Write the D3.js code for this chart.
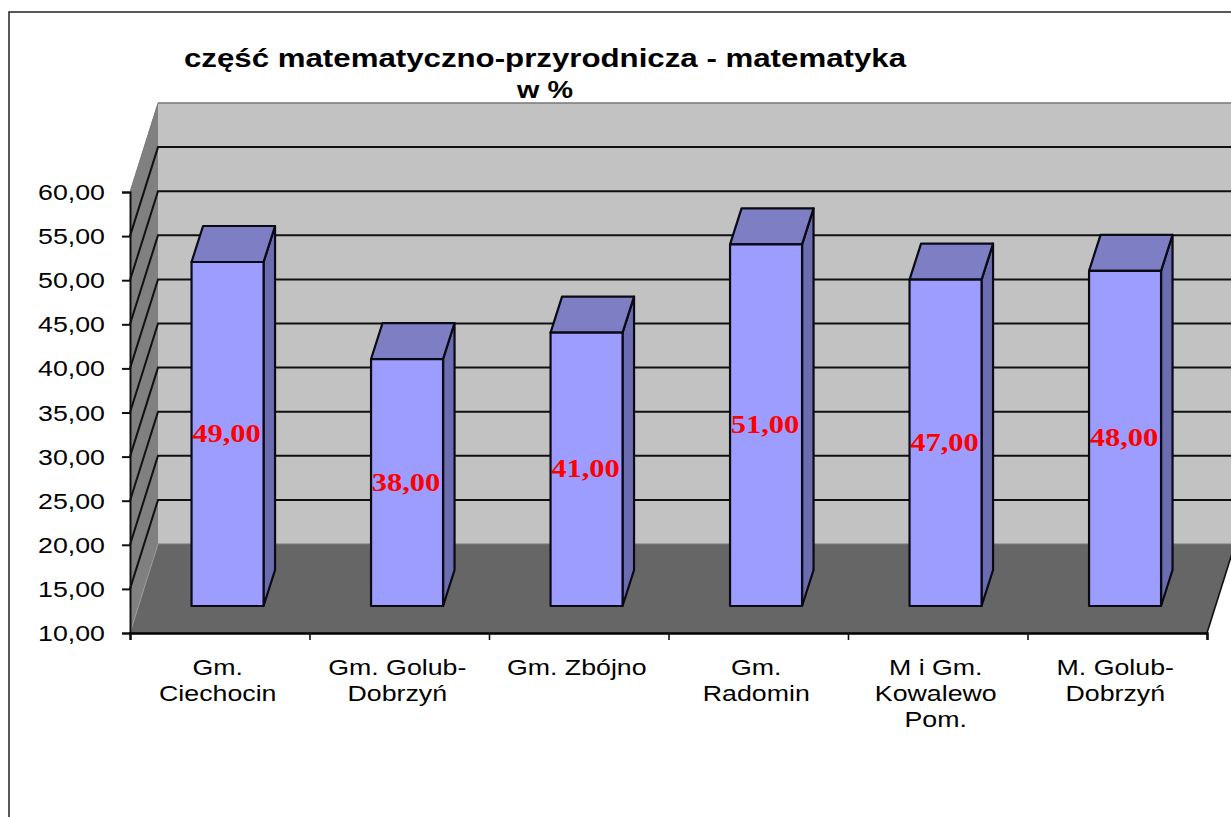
<!DOCTYPE html>
<html>
<head>
<meta charset="utf-8">
<script src="https://cdn.jsdelivr.net/npm/d3@7"></script>
<style>
    html, body { margin: 0; padding: 0; background: #fff; overflow: hidden; }
    svg { display: block; }
    text { font-family: "Liberation Sans", Arial, sans-serif; fill: #000; }
</style>
</head>
<body>
<svg id="chart" width="1231" height="817"></svg>
<script>
var categories = [
    ["Gm.", "Ciechocin"],
    ["Gm. Golub-", "Dobrzyń"],
    ["Gm. Zbójno"],
    ["Gm.", "Radomin"],
    ["M i Gm.", "Kowalewo", "Pom."],
    ["M. Golub-", "Dobrzyń"]
];
var values = [49, 38, 41, 51, 47, 48];
var yTicks = [10, 15, 20, 25, 30, 35, 40, 45, 50, 55, 60];
var titleLines = ["część matematyczno-przyrodnicza - matematyka", "w %"];

var svg = d3.select("#chart");
var stretch = 1.25; // the picture is wider than tall, text gets pulled with it

var left = 130, right = 1207, bottom = 633, top_ = 192;
var depthX = 28, depthY = 89;

var y = d3.scaleLinear().domain([10, 60]).range([bottom, top_]);
var x = d3.scaleBand().domain(d3.range(categories.length)).range([left, right]);
var edges = d3.scaleLinear().domain([0, categories.length]).range([left, right]);
var fmt = d3.formatLocale({decimal: ",", thousands: " ", grouping: [3], currency: ["", ""]}).format(".2f");

function poly(points, fill) {
    return svg.append("polygon")
        .attr("points", points.map(function (p) { return p.join(","); }).join(" "))
        .attr("fill", fill);
}

function label(px, py, str, size, opts) {
    opts = opts || {};
    return svg.append("text")
        .attr("transform", "translate(" + px + "," + py + ") scale(" + stretch + ",1)")
        .attr("text-anchor", opts.anchor || "middle")
        .attr("font-size", size)
        .attr("font-weight", opts.weight || "normal")
        .style("font-family", opts.family || null)
        .style("fill", opts.fill || null)
        .text(str);
}

// frame
svg.append("path")
    .attr("d", "M9,817V12H1231")
    .attr("fill", "none")
    .attr("stroke", "#222")
    .attr("stroke-width", 1.5);

// walls and floor
var y60 = y(60), y10 = y(10);
poly([[left + depthX, y60 - depthY], [1240, y60 - depthY], [1240, y10 - depthY], [left + depthX, y10 - depthY]], "#c2c2c2");
poly([[left, y60], [left + depthX, y60 - depthY], [left + depthX, y10 - depthY], [left, y10]], "#808080");
poly([[left, y10], [left + depthX, y10 - depthY], [right + depthX, y10 - depthY], [right, y10]], "#666666");

svg.append("line")
    .attr("x1", left + depthX).attr("x2", 1231)
    .attr("y1", y60 - depthY).attr("y2", y60 - depthY)
    .attr("stroke", "#777").attr("stroke-width", 1.5);
svg.append("line")
    .attr("x1", left).attr("x2", left + depthX)
    .attr("y1", y60).attr("y2", y60 - depthY)
    .attr("stroke", "#777").attr("stroke-width", 1);
svg.append("line")
    .attr("x1", left + depthX).attr("x2", 1231)
    .attr("y1", y10 - depthY).attr("y2", y10 - depthY)
    .attr("stroke", "#777").attr("stroke-width", 1);

// gridlines along side wall and back wall
svg.append("g").selectAll("path")
    .data(yTicks.filter(function (d) { return d > 10 && d < 60; }))
    .enter().append("path")
    .attr("d", function (d) {
        return "M" + left + "," + y(d) + "L" + (left + depthX) + "," + (y(d) - depthY) + "H1231";
    })
    .attr("fill", "none")
    .attr("stroke", "#111")
    .attr("stroke-width", 2);

svg.append("line")
    .attr("x1", left).attr("y1", y10)
    .attr("x2", left + depthX).attr("y2", y10 - depthY)
    .attr("stroke", "#999").attr("stroke-width", 1);

// floor right edge
svg.append("line")
    .attr("x1", right).attr("y1", y10)
    .attr("x2", right + depthX).attr("y2", y10 - depthY)
    .attr("stroke", "#111").attr("stroke-width", 1.6);

// bars
var barW = 72, barFrontX = 7.8, barFrontY = 27, barDX = 11.5, barDY = 36;
svg.append("g").selectAll("g")
    .data(values)
    .enter().append("g")
    .each(function (d, i) {
        var g = d3.select(this);
        var cx = x(i) + x.bandwidth() / 2 + barFrontX;
        var x0 = cx - barW / 2, x1 = cx + barW / 2;
        var yTop = y(d) - barFrontY, yBase = y(10) - barFrontY;
        function face(points, fill) {
            g.append("polygon")
                .attr("points", points.map(function (p) { return p.join(","); }).join(" "))
                .attr("fill", fill)
                .attr("stroke", "#0a0a14")
                .attr("stroke-width", 2.2)
                .attr("stroke-linejoin", "round");
        }
        face([[x1, yTop], [x1 + barDX, yTop - barDY], [x1 + barDX, yBase - barDY], [x1, yBase]], "#6c6cb0");
        face([[x0, yTop], [x0 + barDX, yTop - barDY], [x1 + barDX, yTop - barDY], [x1, yTop]], "#7e7ec4");
        face([[x0, yTop], [x1, yTop], [x1, yBase], [x0, yBase]], "#9d9dff");
    });

// value labels, above all bars
values.forEach(function (d, i) {
    var cx = x(i) + x.bandwidth() / 2 + barFrontX - 1;
    var mid = (y(d) + y(10)) / 2 - barFrontY;
    label(cx, mid + 8, fmt(d), 24.4, {family: "'Liberation Serif', serif", weight: "bold", fill: "#ff0000"});
});

// y axis
var yAxis = svg.append("g")
    .attr("transform", "translate(" + left + ",0)")
    .call(d3.axisLeft(y).tickValues(yTicks).tickSize(8).tickFormat(function () { return ""; }));
yAxis.selectAll("path, line").attr("stroke", "#111").attr("stroke-width", 2);
yTicks.forEach(function (d) {
    label(105, y(d) + 8, fmt(d), 21.4, {anchor: "end"});
});

// x axis, ticks sit between the categories
var xAxis = svg.append("g")
    .attr("transform", "translate(0," + bottom + ")")
    .call(d3.axisBottom(edges).tickValues(d3.range(categories.length + 1)).tickSize(7).tickFormat(function () { return ""; }));
xAxis.selectAll("line").attr("stroke", "#111").attr("stroke-width", 1.6);
xAxis.select("path").attr("stroke", "#000").attr("stroke-width", 2.4);

categories.forEach(function (lines, i) {
    var cx = x(i) + x.bandwidth() / 2 - 2;
    lines.forEach(function (t, j) {
        label(cx, 675 + j * 26, t, 21.4);
    });
});

// title
label(545, 67, titleLines[0], 25, {weight: "bold"});
label(545, 98, titleLines[1], 23, {weight: "bold"});
</script>
</body>
</html>
